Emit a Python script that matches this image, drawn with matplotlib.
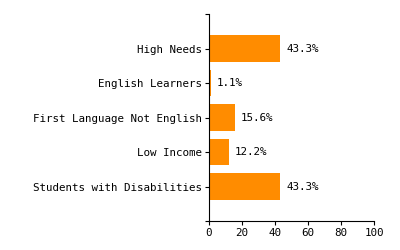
import matplotlib.pyplot as plt
from matplotlib.ticker import FixedLocator

# Data
groups = ['High Needs', 'English Learners', 'First Language Not English',
          'Low Income', 'Students with Disabilities']
values = [43.3, 1.1, 15.6, 12.2, 43.3]
xticks = [0, 20, 40, 60, 80, 100]

plt.rcParams['font.family'] = 'DejaVu Sans Mono'
plt.rcParams['font.size'] = 7.8

fig = plt.figure(figsize=(4, 2.5), dpi=100)
ax = fig.add_axes([0.5225, 0.116, 0.4125, 0.828])

pos = list(range(len(groups)))
ax.barh(pos, values, height=0.78, color='#ff8c00')

for p, v in zip(pos, values):
    ax.text(v + 3.5, p, f'{v}%', va='center', ha='left')

ax.set_ylim(len(groups), -1)
ax.set_xlim(0, 100)
ax.set_yticks(pos)
ax.set_yticklabels(groups)
ax.set_xticks(xticks)
ax.yaxis.set_minor_locator(FixedLocator([-1, len(groups)]))

for s in ['top', 'right']:
    ax.spines[s].set_visible(False)
for s in ['left', 'bottom']:
    ax.spines[s].set_linewidth(0.8)

ax.tick_params(which='both', length=3, width=0.8, pad=2, colors='black')

fig.savefig('out.png', dpi=100)
